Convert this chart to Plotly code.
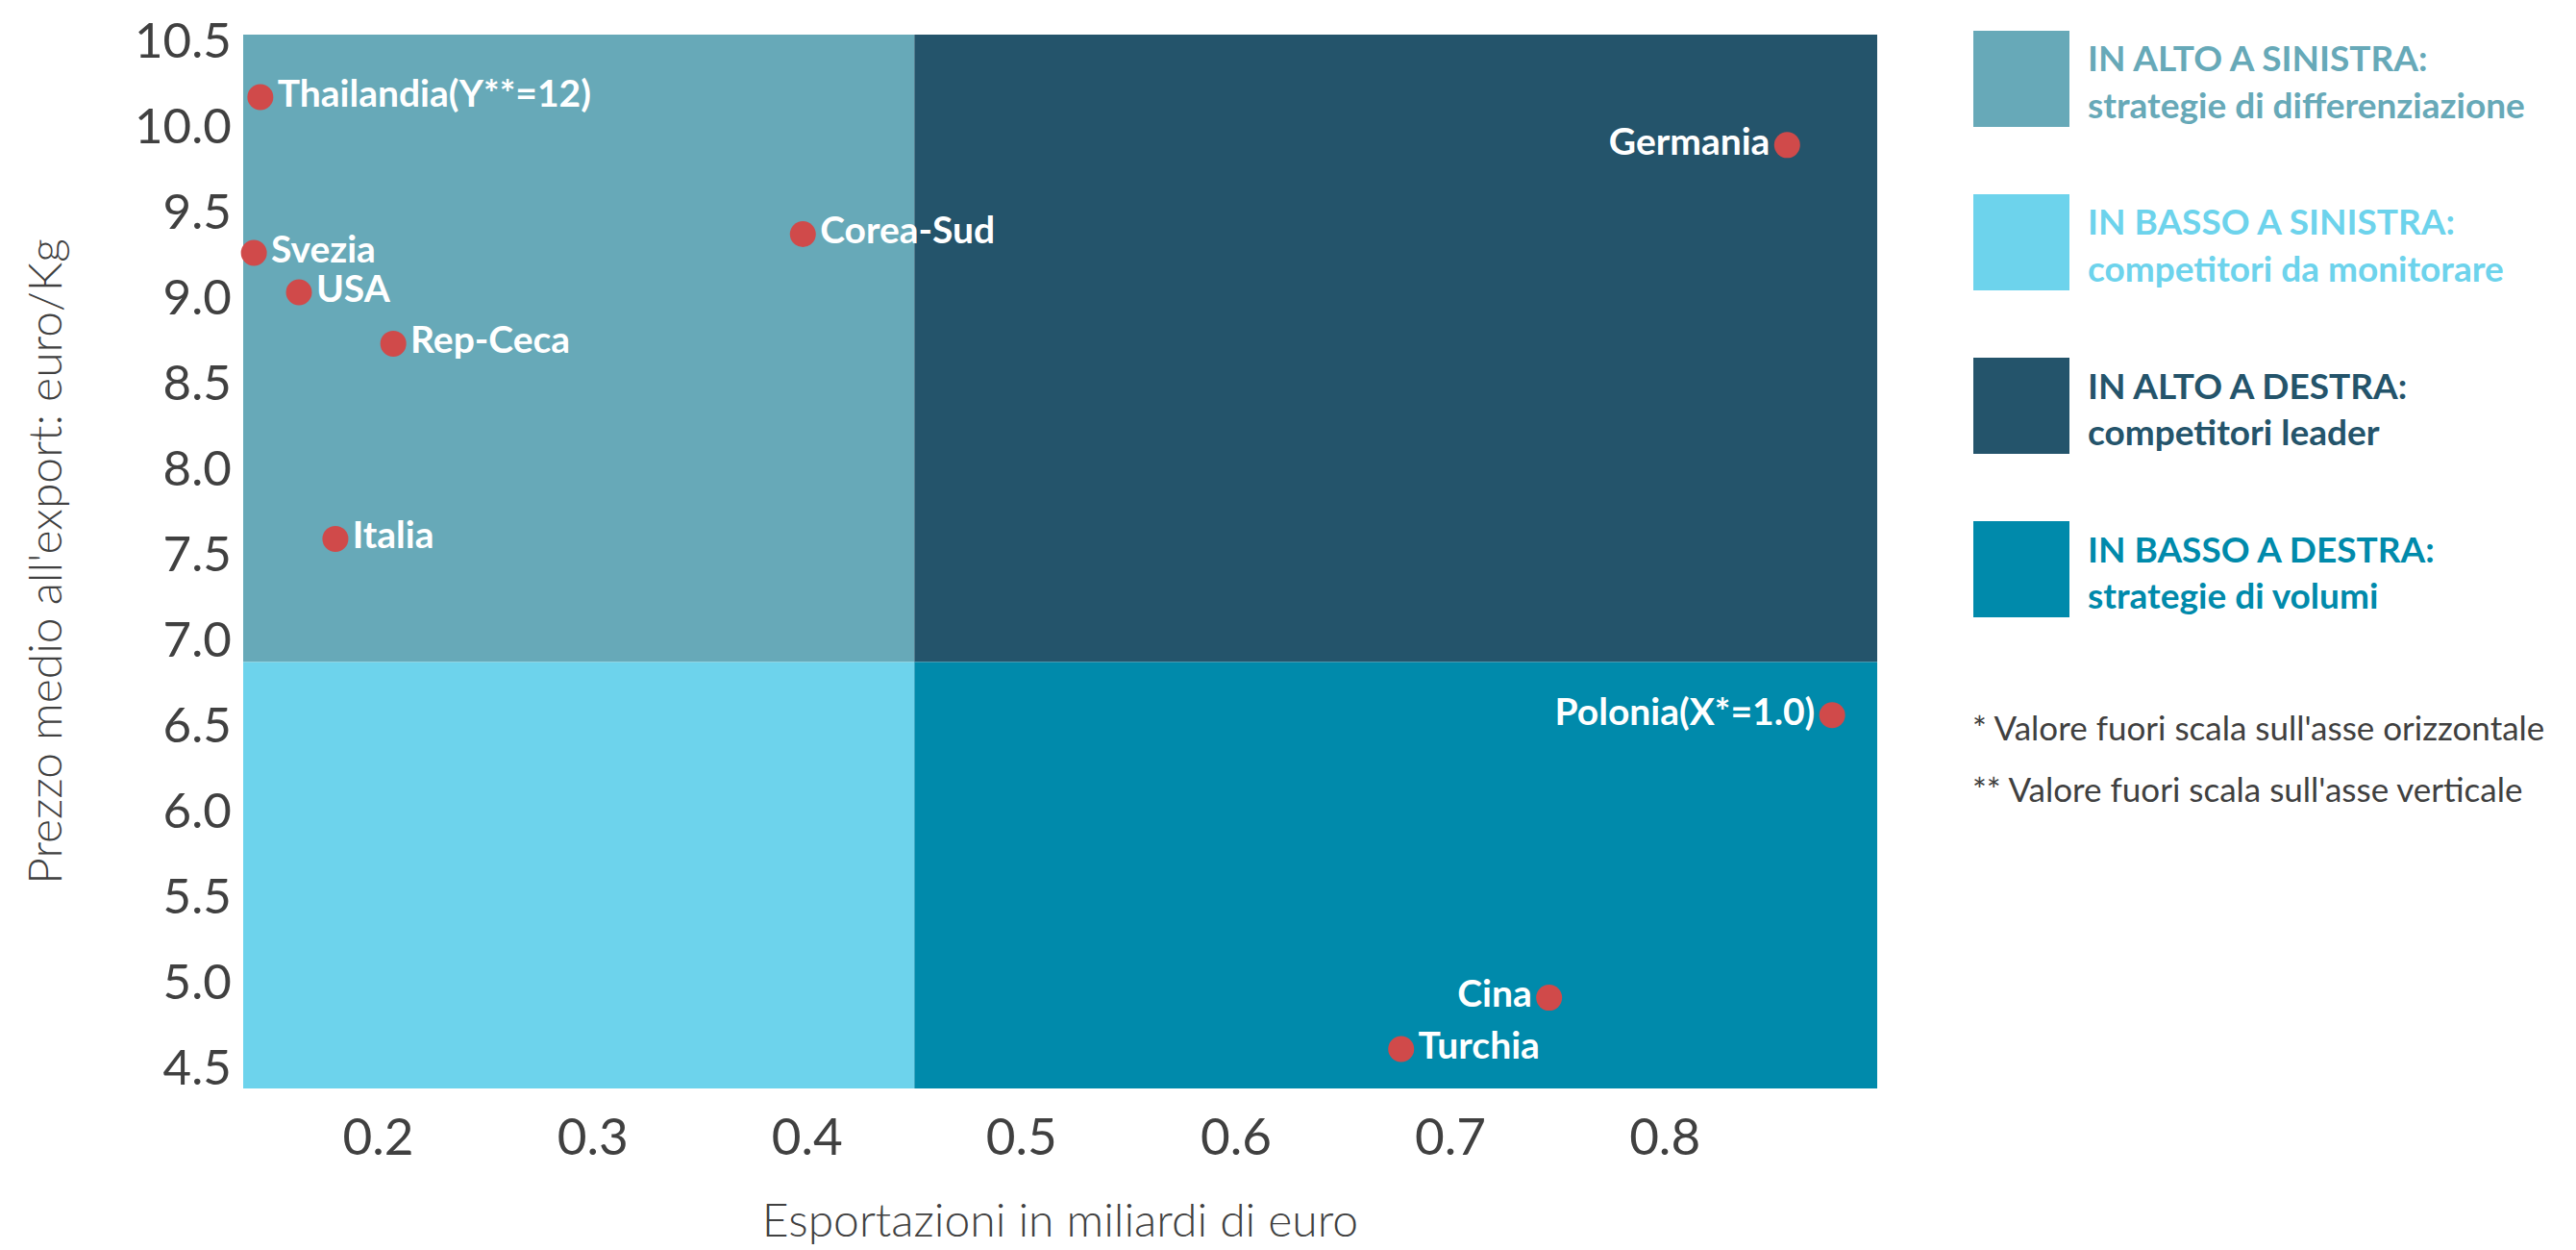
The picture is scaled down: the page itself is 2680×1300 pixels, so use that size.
import plotly.graph_objects as go

# ---------------- data ----------------
countries = ["Thailandia(Y**=12)", "Svezia", "USA", "Rep-Ceca", "Italia",
             "Corea-Sud", "Germania", "Polonia(X*=1.0)", "Cina", "Turchia"]
export_bn = [0.145, 0.142, 0.163, 0.207, 0.180, 0.398, 0.857, 0.878, 0.746, 0.677]
price_kg = [10.17, 9.26, 9.03, 8.73, 7.59, 9.37, 9.89, 6.56, 4.91, 4.61]
label_side = ["middle right", "middle right", "middle right", "middle right", "middle right",
              "middle right", "middle left", "middle left", "middle left", "middle right"]

x_split = 0.45
y_split = 6.87
x_range = [0.137, 0.899]
y_range = [4.38, 10.535]
x_ticks = [0.2, 0.3, 0.4, 0.5, 0.6, 0.7, 0.8]
y_ticks = [4.5, 5.0, 5.5, 6.0, 6.5, 7.0, 7.5, 8.0, 8.5, 9.0, 9.5, 10.0, 10.5]

quadrant_titles = ["IN ALTO A SINISTRA:", "IN BASSO A SINISTRA:", "IN ALTO A DESTRA:", "IN BASSO A DESTRA:"]
quadrant_desc = ["strategie di differenziazione", "competitori da monitorare",
                 "competitori leader", "strategie di volumi"]
footnotes = ["* Valore fuori scala sull'asse orizzontale", "** Valore fuori scala sull'asse verticale"]

# ---------------- style ----------------
C_UL = "#67a9b8"
C_LL = "#6dd3ec"
C_UR = "#24546b"
C_LR = "#008aab"
quad_colors = [C_UL, C_LL, C_UR, C_LR]
DOT = "#d04a4a"
GREY = "#404040"
FONT = "Lato"

OFF = 8  # page offset of the plot div
W, H = 2672, 1292
ML, MT = 253 - OFF, 36 - OFF
PW, PH = 1700, 1096
MR = W - ML - PW
MB = H - MT - PH


def px_to_paper_x(px):
    return (px - OFF - ML) / PW


def px_to_paper_y(py):
    return (MT + PH - (py - OFF)) / PH


fig = go.Figure()

fig.add_trace(go.Scatter(
    x=export_bn, y=price_kg, mode="markers+text",
    text=["<b>" + c + "</b>" for c in countries],
    textposition=label_side,
    textfont=dict(family=FONT, size=39, color="white"),
    marker=dict(size=27, color=DOT),
    hoverinfo="skip", showlegend=False, cliponaxis=False,
))

shapes = []
quads = [
    (x_range[0], x_split, y_split, y_range[1], C_UL),
    (x_range[0], x_split, y_range[0], y_split, C_LL),
    (x_split, x_range[1], y_split, y_range[1], C_UR),
    (x_split, x_range[1], y_range[0], y_split, C_LR),
]
for x0, x1, y0, y1, c in quads:
    shapes.append(dict(type="rect", xref="x", yref="y", x0=x0, x1=x1, y0=y0, y1=y1,
                       fillcolor=c, line=dict(width=0), layer="below"))

annotations = []
for i, (t, d, c) in enumerate(zip(quadrant_titles, quadrant_desc, quad_colors)):
    top = 32 + i * 170
    shapes.append(dict(type="rect", xref="paper", yref="paper",
                       x0=px_to_paper_x(2053), x1=px_to_paper_x(2153),
                       y0=px_to_paper_y(top + 100), y1=px_to_paper_y(top),
                       fillcolor=c, line=dict(width=0)))
    annotations.append(dict(xref="paper", yref="paper", x=px_to_paper_x(2170), y=px_to_paper_y(top + 28),
                            text="<b>" + t + "</b>", showarrow=False, xanchor="left", yanchor="middle",
                            font=dict(family=FONT, size=37, color=c)))
    annotations.append(dict(xref="paper", yref="paper", x=px_to_paper_x(2170), y=px_to_paper_y(top + 76),
                            text="<b>" + d + "</b>", showarrow=False, xanchor="left", yanchor="middle",
                            font=dict(family=FONT, size=37, color=c)))

for j, f in enumerate(footnotes):
    annotations.append(dict(xref="paper", yref="paper", x=px_to_paper_x(2050), y=px_to_paper_y(756 + j * 64),
                            text=f, showarrow=False, xanchor="left", yanchor="middle",
                            font=dict(family=FONT, size=35, color=GREY)))

fig.update_layout(
    width=W, height=H,
    margin=dict(l=ML, r=MR, t=MT, b=MB, autoexpand=False),
    plot_bgcolor="white", paper_bgcolor="white",
    shapes=shapes, annotations=annotations,
    font=dict(family=FONT, color=GREY),
    xaxis=dict(range=x_range, tickvals=x_ticks, tickformat=".1f", showgrid=False, zeroline=False,
               showline=False, ticks="outside", ticklen=4, tickcolor="rgba(0,0,0,0)",
               ticklabeloverflow="allow",
               tickfont=dict(family=FONT, size=53, color=GREY),
               title=dict(text="Esportazioni in miliardi di euro", standoff=41,
                          font=dict(family=FONT, size=48, color=GREY, weight=300)),
               automargin=False, fixedrange=True),
    yaxis=dict(range=y_range, tickvals=y_ticks, tickformat=".1f", showgrid=False, zeroline=False,
               showline=False, ticks="outside", ticklen=1, tickcolor="rgba(0,0,0,0)",
               ticklabeloverflow="allow",
               tickfont=dict(family=FONT, size=51, color=GREY),
               title=dict(text="Prezzo medio all'export: euro/Kg", standoff=60,
                          font=dict(family=FONT, size=48, color=GREY, weight=300)),
               automargin=False, fixedrange=True),
)

fig.write_html("out.html", config={"displayModeBar": False})
